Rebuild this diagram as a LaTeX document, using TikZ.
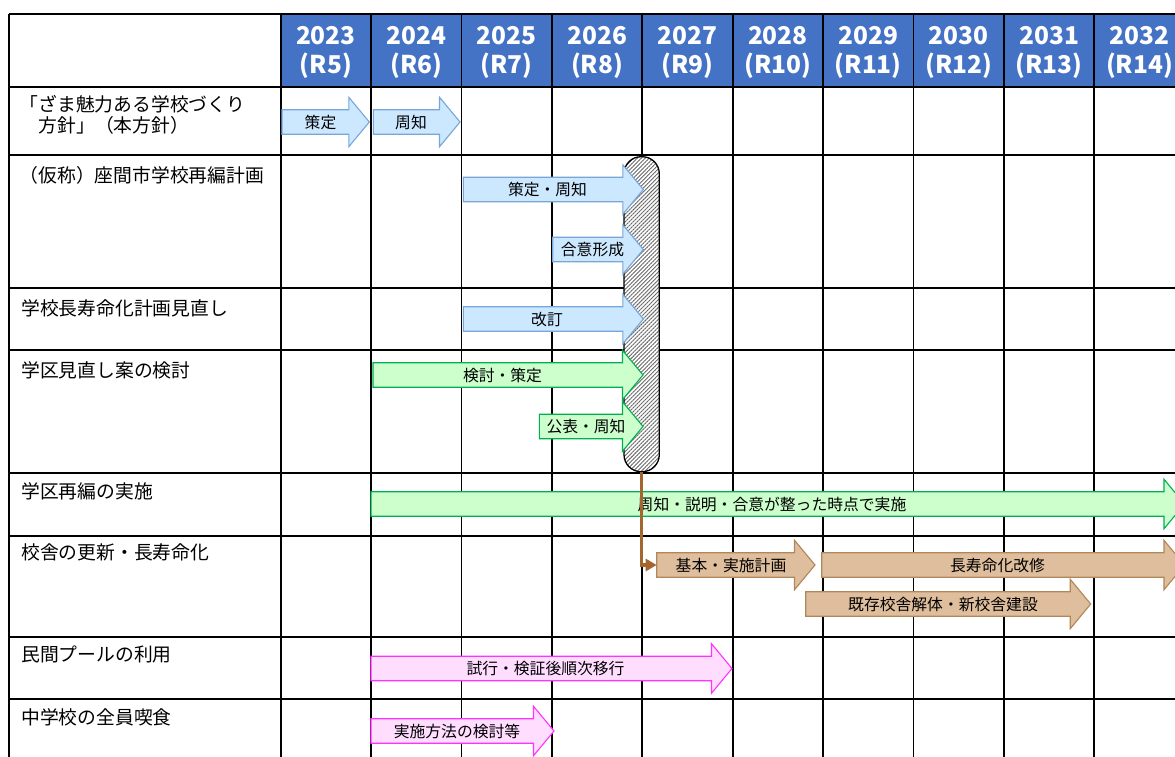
\documentclass[tikz,border=0pt]{standalone}
\usepackage{fontspec}
\setmainfont{Noto Sans CJK JP}
\usetikzlibrary{arrows.meta,patterns.meta}
\definecolor{hdr}{HTML}{4472C4}
\definecolor{bfill}{HTML}{CCE8FF}
\definecolor{bline}{HTML}{78A6DA}
\definecolor{gfill}{HTML}{CCFFCC}
\definecolor{gline}{HTML}{00B050}
\definecolor{tfill}{HTML}{DFBE9D}
\definecolor{tline}{HTML}{B0865A}
\definecolor{pfill}{HTML}{FFDDFF}
\definecolor{pline}{HTML}{FF33FF}
\definecolor{brn}{HTML}{A5652F}
\tikzset{
  gridline/.style={line width=1.8pt, black},
  hdrtxt/.style={font=\fontsize{24.5}{28}\selectfont\bfseries, text=white, inner sep=0},
  rowlbl/.style={font=\fontsize{18.8}{22}\selectfont, anchor=west, inner sep=0, text height=16.5pt, text depth=2.3pt},
  albl/.style={font=\fontsize{15.8}{18}\selectfont, inner sep=0, text height=13.9pt, text depth=1.9pt},
  arrblue/.style={draw=bline, fill=bfill, line width=1.1pt, line join=miter},
  arrgreen/.style={draw=gline, fill=gfill, line width=1.1pt, line join=miter},
  arrtan/.style={draw=tline, fill=tfill, line width=1.1pt, line join=miter},
  arrpink/.style={draw=pline, fill=pfill, line width=1.1pt, line join=miter},
  capsule/.style={draw=black, line width=1.3pt, rounded corners=17pt, minimum width=35.3pt, minimum height=315pt, inner sep=0,
    preaction={fill=white}, pattern={Lines[angle=45,distance=2.8pt,line width=0.9pt]}, pattern color=gray!80!black},
  conn/.style={draw=brn, line width=3.5pt, -{Triangle[length=11pt,width=12pt]}}
}
% #1 style, #2 name, #3 x left, #4 x tip, #5 y centre, #6 text x, #7 text
\newcommand\barrow[7]{%
  \path[#1] (#3,#5-12.25) -- (#4-20.5,#5-12.25) -- (#4-20.5,#5-24.75) -- (#4,#5)
    -- (#4-20.5,#5+24.75) -- (#4-20.5,#5+12.25) -- (#3,#5+12.25) -- cycle;
  \coordinate (#2-tail) at (#3,#5);
  \node[albl] (#2) at (#6,#5) {#7};
}
\begin{document}
\begin{tikzpicture}[x=1pt,y=-1pt]
\useasboundingbox (0,0) rectangle (1175,756);
\clip (0,0) rectangle (1175,756);
\fill[white] (0,0) rectangle (1175,756);
% header band
\fill[hdr] (280.7,14) rectangle (1185,86.7);
% grid
\foreach \x in {9.3,280.7,371.1,461.5,551.9,642.3,732.7,823.1,913.5,1003.9,1094.3}
  \draw[gridline] (\x,14) -- (\x,760);
\foreach \y in {14,86.7,155.3,287.7,350.3,473.3,536,636.7,699.3}
  \draw[gridline] (9.3,\y) -- (1185,\y);
% header text
\foreach \i/\yr/\rr in {0/2023/R5,1/2024/R6,2/2025/R7,3/2026/R8,4/2027/R9,5/2028/R10,6/2029/R11,7/2030/R12,8/2031/R13,9/2032/R14}{
  \node[hdrtxt] (y\yr) at ({325.9+90.4*\i},36) {\yr};
  \node[hdrtxt] (r\yr) at ({325.9+90.4*\i},66) {(\rr)};
}
% row labels
\node[rowlbl] (l1a) at (19.5,104) {「ざま魅力ある学校づくり};
\node[rowlbl] (l1b) at (38.5,125) {方針」（本方針）};
\node[rowlbl] (l2) at (19.5,175) {（仮称）座間市学校再編計画};
\node[rowlbl] (l3) at (21,308) {学校長寿命化計画見直し};
\node[rowlbl] (l4) at (21,370) {学区見直し案の検討};
\node[rowlbl] (l5) at (21,491) {学区再編の実施};
\node[rowlbl] (l6) at (21,552) {校舎の更新・長寿命化};
\node[rowlbl] (l7) at (21,654) {民間プールの利用};
\node[rowlbl] (l8) at (21,717) {中学校の全員喫食};
% capsule
\node[capsule] (cap) at (641.65,314.2) {};
% arrows
\barrow{arrblue}{a1}{282}{369.3}{122}{320.5}{策定}
\barrow{arrblue}{a2}{373.3}{460}{122}{411}{周知}
\barrow{arrblue}{a3}{463.3}{643.3}{189.5}{547.5}{策定・周知}
\barrow{arrblue}{a4}{552.7}{643.3}{249.5}{592.5}{合意形成}
\barrow{arrblue}{a5}{463.3}{643.3}{319}{547}{改訂}
\barrow{arrgreen}{a6}{373}{643}{375}{502.5}{検討・策定}
\barrow{arrgreen}{a7}{539.3}{643}{426.5}{586}{公表・周知}
\barrow{arrgreen}{a8}{371}{1184.5}{504}{772}{周知・説明・合意が整った時点で実施}
\barrow{arrtan}{basic}{656.7}{815}{565}{731}{基本・実施計画}
\barrow{arrtan}{a10}{821.7}{1184.5}{565}{997.5}{長寿命化改修}
\barrow{arrtan}{a11}{805.7}{1090.7}{604}{943}{既存校舎解体・新校舎建設}
\barrow{arrpink}{a12}{371}{732}{668.5}{545.5}{試行・検証後順次移行}
\barrow{arrpink}{a13}{371}{554}{731}{457}{実施方法の検討等}
% connector
\draw[conn] (cap.south) |- (basic-tail);
\end{tikzpicture}
\end{document}
